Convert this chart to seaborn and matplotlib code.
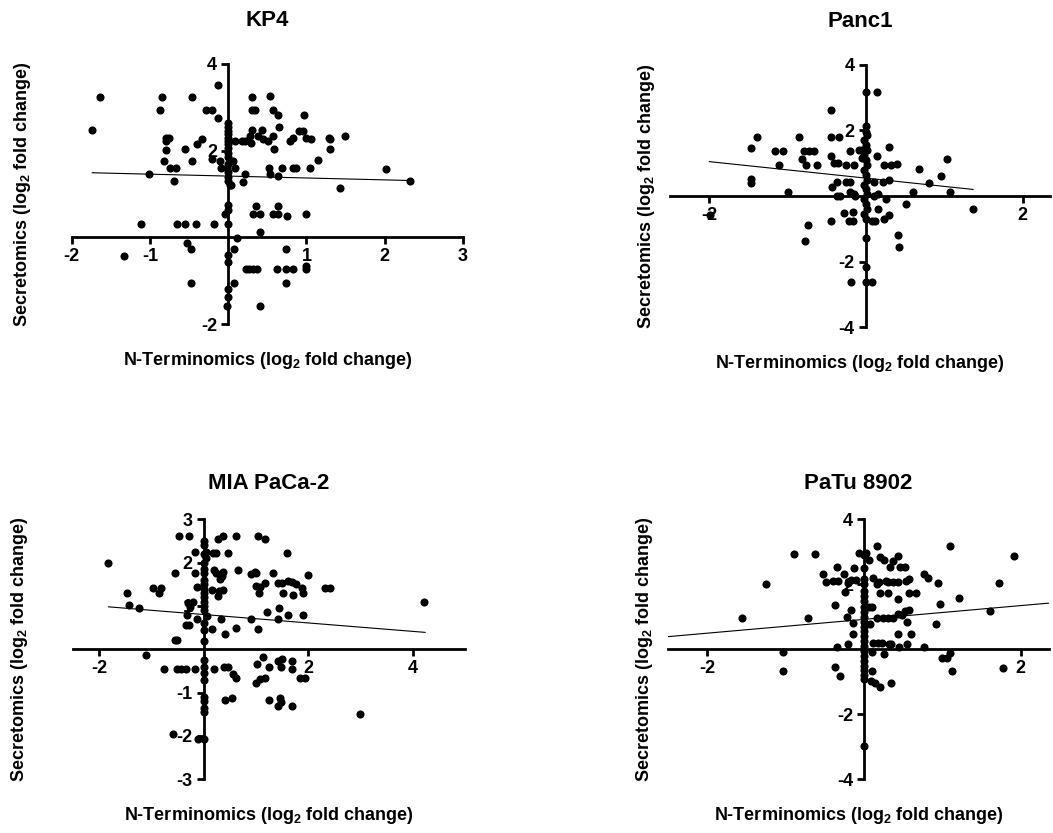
import matplotlib
matplotlib.use("Agg")
import matplotlib.pyplot as plt
import seaborn as sns

# ---- data ----
kp4_x = [-1.64, -1.74, -0.84, -0.87, -0.46, -0.13, -0.28, -0.21, -0.13, 0.30, 0.30, 0.34,
         0.53, 0.57, 0.64, 0.97, 0.65, 0.31, 0.43, 0.28, 0.38, 0.44, 0.51, 0.57,
         0.0, 0.0, 0.0, 0.0, 0.0, 0.0, 0.0, 0.0, 0.0, 0.0, 0.0, 0.0, 0.02, 0.04, 0.0,
         0.0, 0.09, 0.17, 0.21, 0.29, 0.58, 0.79, 0.83, 0.91, 0.95, 0.99, 1.06, 1.29, 1.30,
         1.49, 1.30, 1.15,
         -0.79, -0.76, -0.80, -0.79, -0.82, -0.74, -0.67, -0.69, -1.01, -0.55, -0.46, -0.40,
         -0.33, -0.21, -0.11, -0.09, -0.02, 0.06, 0.09,
         0.21, 0.19, 0.52, 0.54, 0.64, 0.69, 0.83, 0.87, 1.05, 2.01, 2.32, 1.43,
         0.35, 0.63, 0.32, 0.41, 0.57, 0.64, 0.75, 0.99, 0.0, 0.0, -0.04, 0.40,
         -1.11, -0.66, -0.55, -0.41, -0.18, 0.0, 0.11, -0.53, -0.48, -1.33, 0.07, 0.0, 0.0,
         0.23, 0.27, 0.32, 0.37, 0.62, 0.74, 0.83, 0.74, 0.99, 0.99, -0.48, 0.07, 0.74,
         0.0, 0.0, -0.01, 0.41]
kp4_y = [3.23, 2.48, 3.23, 2.94, 3.23, 3.52, 2.94, 2.94, 2.75, 3.23, 2.94, 2.94,
         3.26, 2.94, 2.82, 2.82, 2.54, 2.48, 2.48, 2.34, 2.34, 2.28, 2.22, 2.34,
         2.63, 2.55, 2.45, 2.38, 2.30, 2.15, 2.05, 1.95, 1.85, 1.70, 1.50, 1.40, 1.20, 1.20, 1.30,
         2.23, 2.23, 2.23, 2.23, 2.18, 2.03, 2.23, 2.30, 2.46, 2.46, 2.30, 2.26, 2.30, 2.26,
         2.34, 2.03, 1.78,
         2.30, 2.30, 2.23, 2.02, 1.77, 1.59, 1.59, 1.31, 1.46, 2.03, 1.77, 2.15,
         2.28, 1.80, 1.77, 1.59, 1.59, 1.75, 1.59,
         1.46, 1.28, 1.59, 1.46, 1.42, 1.59, 1.59, 1.59, 1.59, 1.58, 1.31, 1.15,
         0.72, 0.72, 0.54, 0.54, 0.54, 0.54, 0.50, 0.54, 0.75, 0.63, 0.54, 0.13,
         0.31, 0.31, 0.31, 0.31, 0.31, 0.31, -0.02, -0.14, -0.27, -0.42, -0.27, -0.41, -0.56,
         -0.72, -0.72, -0.72, -0.72, -0.72, -0.72, -0.72, -0.27, -0.72, -0.65, -1.06, -1.06, -1.06,
         -1.20, -1.37, -1.58, -1.58]
kp4_fit_x = [-1.74, 2.36]
kp4_fit_y = [1.49, 1.31]

panc1_x = [0.0, 0.14, -0.45, 0.0, -1.39, -0.85, -0.45, -0.34, -1.47, -1.16, -1.06, -0.79,
           -0.73, -0.66, -0.82, -0.45, -0.20, -0.09, -0.05, 0.29, 0.14, 1.03, -1.11, -0.77,
           -0.62, -0.41, -0.36, -0.25, -0.15, -0.05, 0.23, 0.32, 0.40, 0.68, 0.96, 0.80,
           -1.47, -1.47, -1.00, -0.43, -0.37, -0.26, -0.20, -0.37, -0.33, -0.20, -0.15, -0.14,
           0.10, 0.22, 0.29, 0.10, 0.16, 0.60, 1.07, 0.51, 0.26, 0.16, 1.37, -1.99,
           -0.28, -0.16, -0.22, -0.16, -0.45, 0.08, 0.12, 0.23, 0.30, -0.74, -0.78, 0.41,
           0.42, 0.0, 0.0, -0.19, 0.0, 0.08,
           0.0, 0.02, -0.02, 0.0, 0.02, -0.02, 0.0, 0.02, -0.02, 0.0, 0.02, -0.02, 0.0, 0.02,
           -0.02, 0.0, 0.02, -0.02, 0.0]
panc1_y = [3.17, 3.17, 2.63, 2.14, 1.81, 1.81, 1.81, 1.81, 1.46, 1.38, 1.38, 1.38,
           1.38, 1.38, 1.12, 1.22, 1.38, 1.40, 1.40, 1.49, 1.22, 1.12, 0.95, 0.95,
           0.95, 1.00, 1.00, 0.95, 0.95, 1.15, 0.95, 0.95, 0.98, 0.81, 0.61, 0.39,
           0.51, 0.41, 0.11, 0.26, 0.42, 0.42, 0.42, 0.01, 0.01, 0.11, 0.06, 0.01,
           0.42, 0.44, 0.49, 0.01, 0.06, 0.13, 0.13, -0.24, -0.10, -0.41, -0.39, -0.58,
           -0.51, -0.48, -0.75, -0.75, -0.75, -0.75, -0.75, -0.71, -0.58, -0.87, -1.36, -1.19,
           -1.57, -1.29, -2.18, -2.64, -2.64, -2.64,
           1.95, 1.85, 1.70, 1.55, 1.40, 1.25, 1.10, 0.95, 0.80, 0.65, 0.50, 0.35, 0.20, 0.05,
           -0.10, -0.25, -0.40, -0.55, -0.70]
panc1_fit_x = [-2.00, 1.37]
panc1_fit_y = [1.05, 0.20]

mia_x = [-1.83, -1.48, -1.43, -1.24, -0.97, -0.83, -0.85, -1.11, -0.76, -0.52, -0.43, -0.34,
         -0.17, -0.55, -0.51, -0.34, -0.28, -0.33, -0.14, -0.30, -0.20, -0.27, -0.55, -0.47,
         -0.28, -0.17, -0.17, -0.13, -0.60, -0.12, 0.0,
         0.0, 0.0, 0.0, 0.0, 0.0, 0.0, 0.0, 0.0, 0.0, 0.0, 0.0, 0.0, 0.0, 0.0, 0.0, 0.0,
         0.0, 0.0, 0.0, 0.0, 0.0, 0.0, 0.0, 0.0, 0.0,
         0.05, 0.18, 0.24, 0.04, 0.27, 0.37, 0.46, 0.61, 0.19, 0.24, 0.37, 0.31, 0.34, 0.66,
         0.91, 0.97, 1.00, 1.04, 1.18, 1.32, 1.59, 1.99, 0.15, 0.29, 0.37, 0.27,
         1.00, 1.07, 1.18, 1.06, 1.42, 1.50, 1.61, 1.69, 1.77, 1.88, 1.90, 1.52, 1.71,
         2.31, 2.42, 4.22, 1.44, 1.21, 1.61, 1.90, 1.42, 0.91, 0.32, 0.06, 0.15, 0.41,
         0.62, 1.03, 0.20, 0.39, 0.46, 0.56, 0.61, 1.01, 1.13, 0.99, 1.08, 1.18, 1.25,
         1.42, 1.50, 1.48, 1.69, 1.69, 1.85, 1.93, 0.40, 0.53, 1.25, 1.45, 1.48, 1.42,
         1.69, 2.99]
mia_y = [1.98, 1.31, 1.02, 0.95, 1.41, 1.41, 1.29, -0.13, -0.46, -0.46, -0.46, -0.46,
         -0.46, 0.22, 0.22, 0.56, 0.56, 0.79, 0.69, 1.06, 1.10, 0.98, 1.77, 2.62,
         2.62, 2.25, 1.77, 1.43, -1.95, -2.07, -2.07,
         2.50, 2.40, 2.20, 2.00, 1.85, 1.75, 1.60, 1.50, 1.40, 1.30, 1.20, 1.10, 1.00, 0.90,
         0.60, 0.45, 0.20, -0.25, -0.40, -0.55, -0.70, -1.10, -1.20, -1.35, -1.45,
         2.25, 2.23, 2.23, 2.10, 2.54, 2.62, 2.23, 2.62, 1.82, 1.77, 1.79, 1.62, 1.69, 1.82,
         1.74, 1.79, 1.77, 2.62, 2.54, 1.77, 2.23, 1.72, 1.37, 1.35, 1.37, 1.23,
         1.45, 1.43, 1.52, 1.31, 1.52, 1.54, 1.58, 1.56, 1.51, 1.41, 1.31, 1.29, 1.25,
         1.41, 1.41, 1.10, 0.95, 0.85, 0.79, 0.78, 0.69, 0.69, 0.69, 0.77, 0.46, 0.35,
         0.48, 0.46, -0.46, -0.40, -0.40, -0.57, -0.67, -0.34, -0.18, -0.77, -0.69, -0.67, -0.40,
         -0.28, -0.23, -0.40, -0.28, -0.46, -0.67, -0.67, -1.17, -1.13, -1.17, -1.13, -1.21, -1.31,
         -1.31, -1.49]
mia_fit_x = [-1.83, 4.24]
mia_fit_y = [0.98, 0.39]

patu_x = [-1.56, -1.25, -0.89, -0.63, -0.72, -1.03, -1.03, -0.37, -0.31, -0.35, -0.21, -0.14,
          -0.22, -0.14, -0.17, -0.37, -0.53, -0.49, -0.39, -0.33, -0.34, -0.26, -0.24, -0.21,
          -0.16, -0.10, -0.13, -0.06, 0.03, 0.07, 0.16, 0.20, 0.25, 0.33, 0.37, 0.43, 0.46,
          0.52, 0.11, 0.16, 0.19, 0.28, 0.31, 0.37, 0.44, 0.54, 0.58, 0.20, 0.31, 0.43,
          0.58, 0.67, 0.77, 0.82, 0.94, 1.10, 1.21, 0.97, 0.92, 1.73, 1.92, 1.61,
          0.06, 0.10, 0.08, 0.16, 0.24, 0.31, 0.37, 0.44, 0.48, 0.52, 0.58, 0.55, 0.43, 0.60,
          0.12, 0.18, 0.23, 0.32, 0.35, 0.45, 0.55, 0.77, 0.10, 0.25, 1.00, 1.06, 1.10,
          1.12, 1.77, 0.10, 0.09, 0.14, 0.20, 0.35, 0.0,
          0.0, 0.0, 0.0, 0.0, 0.0, 0.0, 0.0, 0.0, 0.0, 0.0, 0.0, 0.0, 0.0, 0.0, 0.0, 0.0,
          0.0, 0.0, 0.0, 0.0, 0.0, 0.0, 0.0]
patu_y = [0.97, 2.00, 2.93, 2.93, 0.97, -0.09, -0.67, -0.53, -0.81, 0.08, 0.16, 0.46,
          0.98, 0.82, 1.21, 1.36, 2.32, 2.08, 2.11, 2.11, 2.52, 2.32, 1.77, 2.03,
          2.13, 2.13, 2.51, 2.95, 2.95, 2.75, 3.19, 2.83, 2.75, 2.54, 2.73, 2.87, 2.52,
          2.52, 2.18, 2.00, 2.08, 2.10, 2.08, 2.08, 2.08, 2.10, 2.15, 1.74, 1.74, 1.54,
          1.74, 1.74, 2.32, 2.18, 2.05, 3.19, 1.59, 1.39, 0.77, 2.03, 2.87, 1.19,
          1.29, 1.29, 0.78, 0.95, 0.95, 0.95, 0.95, 1.10, 1.05, 1.18, 1.20, 0.83, 0.47, 0.47,
          0.18, 0.18, 0.18, 0.16, 0.16, 0.08, 0.16, 0.06, -0.07, -0.14, -0.26, -0.26, -0.10,
          -0.67, -0.58, -0.66, -0.97, -1.03, -1.15, -1.03, -2.97,
          2.90, 2.50, 2.15, 2.00, 1.80, 1.65, 1.50, 1.30, 1.15, 1.00, 0.85, 0.70, 0.55, 0.40,
          0.25, 0.10, -0.05, -0.20, -0.35, -0.50, -0.65, -0.80, -0.90]
patu_fit_x = [-2.50, 2.36]
patu_fit_y = [0.39, 1.42]

# ---- style ----
sns.set_theme(style="ticks")
plt.rcParams["font.family"] = ["Liberation Sans", "DejaVu Sans"]
plt.rcParams["font.weight"] = "bold"
plt.rcParams["axes.unicode_minus"] = False
plt.rcParams["mathtext.fontset"] = "custom"
plt.rcParams["mathtext.rm"] = "Liberation Sans:bold"
plt.rcParams["mathtext.bf"] = "Liberation Sans:bold"
plt.rcParams["mathtext.it"] = "Liberation Sans:bold"
plt.rcParams["mathtext.default"] = "rm"
for key in ["text.color", "axes.labelcolor", "xtick.color", "ytick.color", "axes.edgecolor"]:
    plt.rcParams[key] = "black"

xlab = "N-Terminomics (log$_2$ fold change)"
ylab = "Secretomics (log$_2$ fold change)"


def draw_panel(ax, x, y, fit_x, fit_y, title, xlim, ylim, xticks, yticks,
               title_pad, ylab_x):
    sns.scatterplot(x=x, y=y, ax=ax, color="black", s=34, linewidth=0, zorder=3)
    sns.lineplot(x=fit_x, y=fit_y, ax=ax, color="black", linewidth=0.8, zorder=2)
    ax.set_xlim(xlim)
    ax.set_ylim(ylim)
    for side in ["top", "right"]:
        ax.spines[side].set_visible(False)
    ax.spines["left"].set_position(("data", 0))
    ax.spines["bottom"].set_position(("data", 0))
    for side in ["left", "bottom"]:
        ax.spines[side].set_linewidth(2)
        ax.spines[side].set_color("black")
    ax.set_xticks(xticks)
    ax.set_yticks(yticks)
    ax.set_xticklabels([str(t) for t in xticks])
    ax.set_yticklabels([str(t) for t in yticks])
    ax.tick_params(width=2, length=5, labelsize=13, pad=3, colors="black")
    for lbl in ax.get_xticklabels() + ax.get_yticklabels():
        lbl.set_fontweight("bold")
    ax.set_title(title, fontsize=16, fontweight="bold", pad=title_pad, color="black")
    ax.set_xlabel(xlab, fontsize=13, fontweight="bold")
    ax.set_ylabel(ylab, fontsize=13, fontweight="bold")
    ax.xaxis.set_label_coords(0.5, -0.1)
    ax.yaxis.set_label_coords(ylab_x, 0.5)


fig = plt.figure(figsize=(10.53, 8.33), dpi=100)
ax1 = fig.add_axes([0.0681, 0.611, 0.3716, 0.3122])
ax2 = fig.add_axes([0.6363, 0.6074, 0.3609, 0.3146])
ax3 = fig.add_axes([0.0696, 0.0645, 0.372, 0.3121])
ax4 = fig.add_axes([0.6347, 0.0645, 0.3612, 0.3121])

draw_panel(ax1, kp4_x, kp4_y, kp4_fit_x, kp4_fit_y, "KP4",
           (-2, 3), (-2, 4), [-2, -1, 1, 2, 3], [-2, 2, 4], 27, -0.10)
draw_panel(ax2, panc1_x, panc1_y, panc1_fit_x, panc1_fit_y, "Panc1",
           (-2.5, 2.35), (-4, 4), [-2, 2], [-4, -2, 2, 4], 27, -0.034)
draw_panel(ax3, mia_x, mia_y, mia_fit_x, mia_fit_y, "MIA PaCa-2",
           (-2.5, 5), (-3, 3), [-2, 2, 4], [-3, -2, -1, 1, 2, 3], 22, -0.11)
draw_panel(ax4, patu_x, patu_y, patu_fit_x, patu_fit_y, "PaTu 8902",
           (-2.5, 2.36), (-4, 4), [-2, 2], [-4, -2, 2, 4], 22, -0.035)

fig.savefig("out.png", dpi=100)
